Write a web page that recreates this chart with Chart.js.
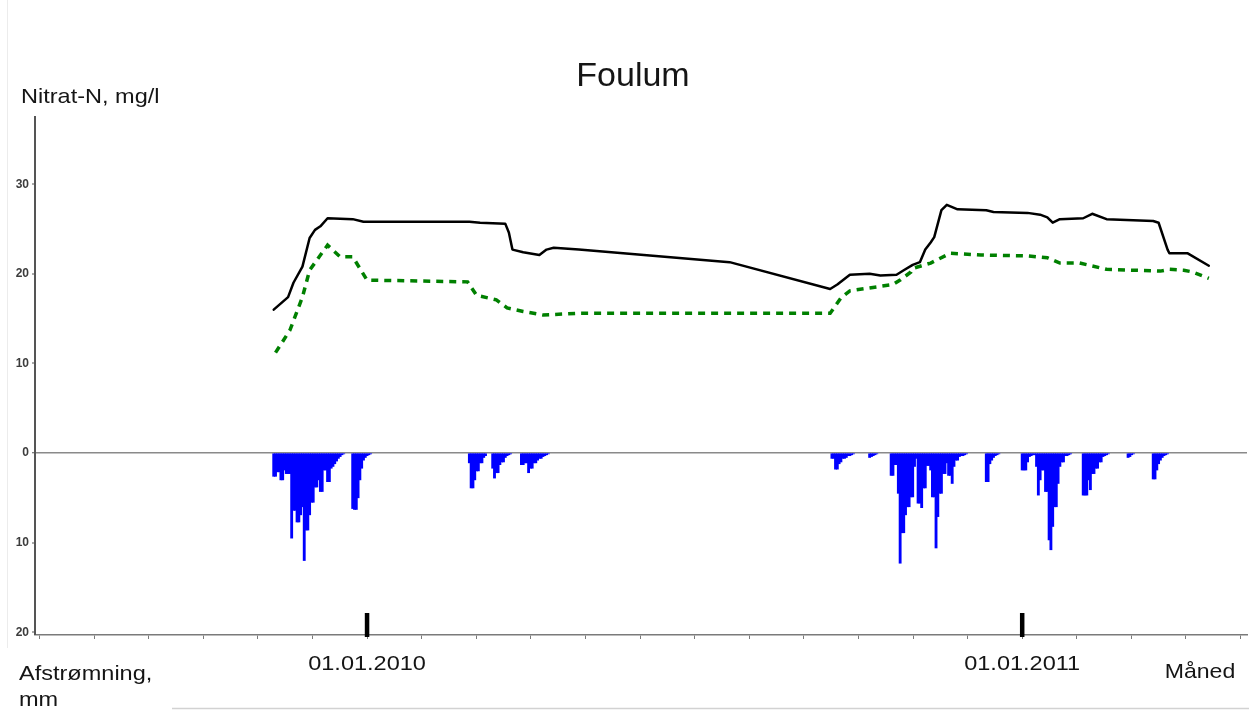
<!DOCTYPE html>
<html>
<head>
<meta charset="utf-8">
<title>Foulum</title>
<script src="https://cdn.jsdelivr.net/npm/chart.js@4/dist/chart.umd.min.js"></script>
<style>
  html, body { margin: 0; padding: 0; background: #fff; }
  #wrap { width: 1249px; height: 711px; position: relative; }
</style>
</head>
<body>
<div id="wrap"><canvas id="chart" width="1249" height="711"></canvas></div>
<script>
// Time axis: days counted from 01.01.2010

// Nitrat-N, mg/l (solid black line)
const blackDays = [-52, -44, -41, -36, -32, -29, -26, -22, -8, -2, 57, 63, 77, 79, 81, 87, 96, 100, 104, 118,
  202, 258, 262, 269, 280, 286, 295, 299, 304, 308, 311, 314, 316, 320, 323, 329, 345, 349, 368, 375,
  379, 382, 386, 399, 404, 412, 438, 441, 446, 447, 457, 469];
const blackValues = [16.0, 17.4, 19.0, 20.8, 24.0, 24.9, 25.3, 26.2, 26.1, 25.8, 25.8, 25.7, 25.6, 24.6, 22.7, 22.4, 22.1, 22.7, 22.9, 22.7,
  21.3, 18.3, 18.8, 19.9, 20.0, 19.8, 19.9, 20.4, 21.0, 21.3, 22.7, 23.5, 24.1, 27.1, 27.7, 27.2, 27.1, 26.9, 26.8, 26.6,
  26.3, 25.7, 26.1, 26.2, 26.7, 26.1, 25.9, 25.7, 22.7, 22.3, 22.3, 20.9];

// Nitrat-N, mg/l (dotted green line)
const greenDays = [-51, -43, -36, -32, -22, -15, -8, 0, 56, 61, 72, 78, 87, 98, 119, 258, 264, 269,
  286, 293, 297, 303, 304, 314, 325, 342, 368, 379, 386, 397, 412, 442, 447, 455, 460, 469];
const greenValues = [11.2, 13.7, 17.4, 20.4, 23.2, 21.9, 21.9, 19.3, 19.1, 17.6, 17.1, 16.2, 15.8, 15.4, 15.6, 15.6, 17.3, 18.1,
  18.6, 18.8, 19.3, 20.2, 20.6, 21.2, 22.3, 22.1, 22.0, 21.8, 21.2, 21.2, 20.5, 20.3, 20.5, 20.4, 20.2, 19.5];

// Afstrømning, mm per day: first day of each runoff period and its daily values
const runoffStartDays = [-52, -8, 57, 70, 86, 259, 280, 292, 345, 365, 399, 424, 438];
const runoffDaily = [
  [2.6, 2.6, 2.1, 2.1, 3.0, 3.0, 1.9, 2.3, 2.3, 2.3, 9.5, 6.4, 6.4, 7.7, 7.7, 6.9, 6.0, 12.0, 8.6, 8.6,
   6.9, 5.5, 5.5, 3.8, 3.8, 3.0, 4.3, 4.3, 1.9, 1.9, 3.2, 3.2, 1.7, 1.5, 1.2, 0.9, 0.6, 0.4, 0.2, 0.1],
  [6.2, 6.3, 6.3, 5.0, 3.0, 1.7, 0.8, 0.5, 0.3, 0.2, 0.1],
  [1.1, 3.9, 3.9, 3.0, 2.0, 2.0, 1.1, 1.1, 0.5, 0.3],
  [1.7, 2.8, 2.2, 2.2, 1.3, 1.0, 1.0, 0.5, 0.3, 0.2, 0.1],
  [1.3, 1.3, 1.1, 1.1, 2.2, 1.7, 1.7, 1.1, 1.1, 0.8, 0.6, 0.6, 0.4, 0.3, 0.2, 0.1],
  [0.6, 0.6, 1.8, 1.8, 1.2, 1.0, 0.6, 0.6, 0.5, 0.3, 0.3, 0.2, 0.1],
  [0.5, 0.4, 0.3, 0.2, 0.1],
  [2.5, 2.5, 1.3, 1.3, 4.5, 12.3, 8.9, 8.9, 6.9, 6.0, 6.0, 4.9, 4.9, 1.5, 0.6, 5.6, 5.6, 6.1, 3.9, 3.9,
   1.4, 1.4, 1.9, 4.9, 4.9, 10.6, 7.1, 4.5, 4.5, 2.3, 2.3, 1.1, 2.5, 2.5, 3.4, 1.5, 0.8, 0.8, 0.4, 0.3,
   0.3, 0.2, 0.1],
  [3.2, 3.2, 1.2, 0.8, 0.5, 0.3, 0.2, 0.1],
  [1.9, 1.9, 1.9, 1.0, 0.4, 0.3, 0.2, 0.2, 1.5, 4.7, 3.0, 1.9, 1.9, 4.3, 4.3, 9.7, 10.8, 8.2, 6.0, 6.0,
   3.4, 1.5, 1.0, 1.0, 0.3, 0.3, 0.2, 0.1],
  [4.7, 4.7, 4.7, 3.0, 4.1, 2.3, 2.3, 1.7, 1.7, 1.0, 1.0, 0.4, 0.3, 0.2, 0.1],
  [0.5, 0.4, 0.2, 0.1],
  [2.9, 2.9, 1.9, 1.2, 0.8, 0.5, 0.3, 0.2, 0.1]
];

// Axis ticks and labels
const yTickValues = [-20, -10, 0, 10, 20, 30];   // below 0: runoff (mm), above 0: nitrate (mg/l)
const monthTickCount = 23;                        // Jul 2009 .. May 2011
const firstMonthOffset = -6;                      // months before 01.01.2010
const dateLabels = ['01.01.2010', '01.01.2011'];
const dateLabelDays = [0, 365];

// --- build chart data ---
const toPoints = (xs, ys) => xs.map((d, i) => ({ x: d, y: ys[i] }));
const runoffPoints = [];
runoffStartDays.forEach((start, k) => {
  runoffDaily[k].forEach((mm, i) => runoffPoints.push({ x: start + i, y: -mm }));
});
const monthTicks = Array.from({ length: monthTickCount }, (_, i) => (firstMonthOffset + i) * 365 / 12);

const FONT = '"Liberation Sans", Arial, Helvetica, sans-serif';

function drawLabel(ctx, text, x, y, size, align, stretch) {
  ctx.save();
  ctx.font = size + 'px ' + FONT;
  ctx.fillStyle = '#151515';
  ctx.textBaseline = 'alphabetic';
  ctx.textAlign = align;
  ctx.translate(x, y);
  ctx.scale(stretch, 1);
  ctx.fillText(text, 0, 0);
  ctx.restore();
}

const decorations = {
  id: 'decorations',
  beforeDraw(chart) {
    const ctx = chart.ctx;
    ctx.save();
    ctx.fillStyle = '#fff';
    ctx.fillRect(0, 0, chart.width, chart.height);
    // thin frame lines of the page
    ctx.strokeStyle = '#ececec';
    ctx.lineWidth = 1;
    ctx.beginPath(); ctx.moveTo(7.5, 0); ctx.lineTo(7.5, 648); ctx.stroke();
    ctx.strokeStyle = '#d2d2d2';
    ctx.lineWidth = 1.5;
    ctx.beginPath(); ctx.moveTo(172, 708.5); ctx.lineTo(chart.width, 708.5); ctx.stroke();
    ctx.restore();
  },
  afterDraw(chart) {
    const ctx = chart.ctx;
    const area = chart.chartArea;
    const xs = chart.scales.x;
    // title and axis captions
    drawLabel(ctx, 'Foulum', 633, 86, 34, 'center', 1);
    drawLabel(ctx, 'Nitrat-N, mg/l', 21, area.top - 14, 21, 'left', 1.12);
    drawLabel(ctx, 'Afstrømning,', 19, area.bottom + 45, 21, 'left', 1.12);
    drawLabel(ctx, 'mm', 19, area.bottom + 71, 21, 'left', 1.12);
    drawLabel(ctx, 'Måned', 1200, area.bottom + 43, 21, 'center', 1.1);
    // year marks with date labels
    dateLabelDays.forEach((d, i) => {
      const px = xs.getPixelForValue(d);
      ctx.save();
      ctx.fillStyle = '#000';
      ctx.fillRect(px - 2.25, area.bottom - 22, 4.5, 24);
      ctx.restore();
      drawLabel(ctx, dateLabels[i], px, area.bottom + 35, 21, 'center', 1.12);
    });
  }
};

new Chart(document.getElementById('chart'), {
  data: {
    datasets: [
      {
        type: 'line',
        label: 'Nitrat-N',
        data: toPoints(blackDays, blackValues),
        borderColor: '#000',
        borderWidth: 2.5,
        pointRadius: 0,
        tension: 0,
        fill: false,
        borderJoinStyle: 'round',
        borderCapStyle: 'round'
      },
      {
        type: 'line',
        label: 'Nitrat-N (stiplet)',
        data: toPoints(greenDays, greenValues),
        borderColor: '#008000',
        borderWidth: 3.5,
        borderDash: [7, 6],
        pointRadius: 0,
        tension: 0,
        fill: false
      },
      {
        type: 'bar',
        label: 'Afstrømning',
        data: runoffPoints,
        backgroundColor: '#0000ff',
        borderWidth: 0,
        barThickness: 2.2,
        grouped: false
      }
    ]
  },
  options: {
    responsive: false,
    animation: false,
    devicePixelRatio: 1,
    layout: { padding: { top: 117, right: 2, bottom: 0, left: 0 } },
    plugins: {
      legend: { display: false },
      title: { display: false },
      tooltip: { enabled: false }
    },
    scales: {
      x: {
        type: 'linear',
        offset: false,
        min: -185,
        max: 490.25,
        afterBuildTicks: s => { s.ticks = monthTicks.map(v => ({ value: v })); },
        afterFit: s => { s.height = 76; },
        ticks: { callback: () => '', autoSkip: false, maxRotation: 0 },
        grid: { offset: false, drawOnChartArea: false, tickLength: 4, color: '#7a7a7a', tickWidth: 1 },
        border: { color: '#7a7a7a', width: 1.5 }
      },
      y: {
        type: 'linear',
        min: -20.31,
        max: 37.5,
        afterBuildTicks: s => { s.ticks = yTickValues.map(v => ({ value: v })); },
        afterFit: s => { s.width = 35; },
        ticks: {
          callback: v => String(Math.abs(v)),
          autoSkip: false,
          padding: 3,
          color: '#3c3c3c',
          font: { family: FONT, size: 12, weight: 'bold' }
        },
        grid: {
          drawOnChartArea: true,
          color: c => (c.tick && c.tick.value === 0 ? '#8a8a8a' : 'rgba(0,0,0,0)'),
          lineWidth: c => (c.tick && c.tick.value === 0 ? 1.5 : 0),
          tickColor: '#555',
          tickWidth: 1,
          tickLength: 3
        },
        border: { color: '#555', width: 2 }
      }
    }
  },
  plugins: [decorations]
});
</script>
</body>
</html>
